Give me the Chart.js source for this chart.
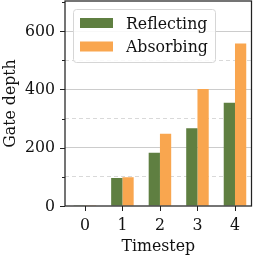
<!DOCTYPE html>
<html><head><meta charset="utf-8">
<script src="https://cdn.jsdelivr.net/npm/chart.js@4/dist/chart.umd.min.js"></script>
<style>html,body{margin:0;padding:0;background:#fff}#wrap{width:258px;height:257px}</style>
</head><body><div id="wrap"><canvas id="c" width="258" height="257"></canvas></div>
<script>
const timesteps = [0, 1, 2, 3, 4];
const reflecting = [3, 96, 183, 267, 354];
const absorbing = [3, 99, 248, 401, 557];
const seriesNames = ['Reflecting', 'Absorbing'];
const yTicks = [0, 200, 400, 600];

const FONT = '"DejaVu Serif Condensed", "DejaVu Serif", serif';
const FS = 17.5;
const green = '#5f7f41';
const orange = '#f9a64f';

const frame = {
  id: 'frame',
  afterDatasetsDraw(chart) {
    const ctx = chart.ctx, a = chart.chartArea;
    const ys = chart.scales.y, xs = chart.scales.x;
    ctx.save();
    ctx.strokeStyle = '#222';
    ctx.lineWidth = 1.25;
    ctx.strokeRect(a.left, a.top, a.right - a.left, a.bottom - a.top);
    ctx.lineWidth = 1;
    for (let v = 0; v <= 700; v += 100) {
      const p = Math.round(ys.getPixelForValue(v)) + 0.5;
      const len = (v % 200 === 0) ? 5 : 3;
      ctx.beginPath(); ctx.moveTo(a.left - len, p); ctx.lineTo(a.left, p); ctx.stroke();
    }
    for (const t of timesteps) {
      const p = Math.round(xs.getPixelForValue(t)) + 0.5;
      ctx.beginPath(); ctx.moveTo(p, a.bottom); ctx.lineTo(p, a.bottom + 5); ctx.stroke();
    }
    const bx = 73.5, by = 9.5, bw = 142, bh = 53, r = 3;
    ctx.fillStyle = 'rgba(255,255,255,0.85)';
    ctx.strokeStyle = '#d6d6d6';
    ctx.beginPath();
    ctx.roundRect(bx, by, bw, bh, r);
    ctx.fill(); ctx.stroke();
    ctx.font = FS + 'px ' + FONT;
    ctx.textBaseline = 'middle';
    chart.data.datasets.forEach((ds, i) => {
      const cy = 23 + i * 23.5;
      ctx.fillStyle = ds.backgroundColor;
      ctx.fillRect(80, cy - 5, 33, 10);
      ctx.fillStyle = '#111';
      ctx.fillText(ds.label, 126, cy + 1);
    });
    ctx.restore();
  }
};

new Chart(document.getElementById('c'), {
  type: 'bar',
  data: {
    datasets: [
      { label: seriesNames[0], data: timesteps.map((t, i) => ({x: t, y: reflecting[i]})), backgroundColor: green, borderWidth: 0 },
      { label: seriesNames[1], data: timesteps.map((t, i) => ({x: t, y: absorbing[i]})), backgroundColor: orange, borderWidth: 0 }
    ]
  },
  options: {
    responsive: false,
    animation: false,
    devicePixelRatio: 1,
    layout: { padding: { left: 0, top: 1, right: 6.5, bottom: 0 } },
    datasets: { bar: { categoryPercentage: 0.6, barPercentage: 1.0 } },
    plugins: { legend: { display: false }, tooltip: { enabled: false } },
    scales: {
      x: {
        type: 'linear', min: -0.53, max: 4.44, offset: false,
        afterFit(s) { s.height = 51; s.paddingLeft = 0; s.paddingRight = 0; },
        afterBuildTicks(s) { s.ticks = timesteps.map(v => ({value: v})); },
        grid: { display: false, drawTicks: false, offset: false },
        border: { display: false },
        ticks: { color: '#111', font: { family: FONT, size: FS }, padding: 9, maxRotation: 0 },
        title: { display: true, text: 'Timestep', color: '#111', font: { family: FONT, size: FS }, padding: { top: 0, bottom: 0 } }
      },
      y: {
        min: 0, max: 703,
        afterFit(s) { s.width = 65; s.paddingTop = 0; s.paddingBottom = 0; },
        afterBuildTicks(s) { const t = []; for (let v = 0; v <= 600; v += 100) t.push({value: v}); s.ticks = t; },
        grid: {
          drawTicks: false,
          color: c => (c.tick && c.tick.value === 0) ? 'rgba(0,0,0,0)' : (c.tick && c.tick.value % 200 === 0 ? '#cccccc' : '#d9d9d9'),
          lineWidth: 1
        },
        border: { display: false, dash: c => (c.tick && c.tick.value % 200 !== 0) ? [4, 3] : [] },
        ticks: {
          color: '#111', font: { family: FONT, size: FS }, padding: 10,
          callback: v => yTicks.includes(v) ? String(v) : ''
        },
        title: { display: true, text: 'Gate depth', color: '#111', font: { family: FONT, size: FS }, padding: { top: 0, bottom: 0 } }
      }
    }
  },
  plugins: [frame]
});
</script></body></html>
